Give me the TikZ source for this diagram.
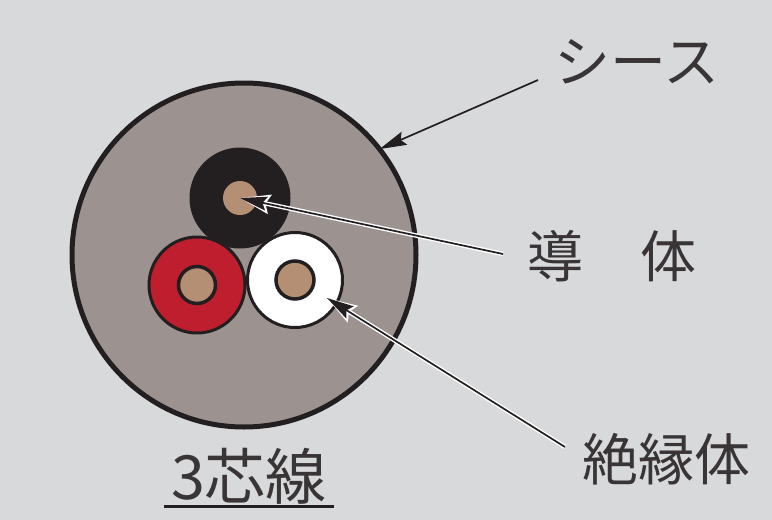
\documentclass[tikz,border=0pt]{standalone}
\usepackage{fontspec}
\usepackage{tikz}
\usetikzlibrary{arrows.meta}
\setmainfont{Noto Sans CJK JP}
\definecolor{panelgray}{HTML}{D8D9DB}
\definecolor{sheathgray}{HTML}{9C9391}
\definecolor{corebrown}{HTML}{B58F73}
\definecolor{wirered}{HTML}{BE1E2D}
\definecolor{inkblack}{HTML}{231F20}
\tikzset{
  WireStyle/.style = {circle, draw=inkblack, inner sep=0pt, outer sep=0pt},
  LabelStyle/.style = {inner sep=0pt, text=inkblack!90, font=\fontsize{56}{56}\selectfont},
  LeadStyle/.style = {draw=inkblack, line width=1.7pt, -{Stealth[length=27pt,width=14pt,inset=4pt]}},
  HaloStyle/.style = {draw=white, line width=4.5pt, -{Stealth[length=30pt,width=19pt,inset=4pt]}}
}
\begin{document}
\begin{tikzpicture}[x=1pt,y=-1pt]
  \fill[panelgray] (0,0) rectangle (772,520);
  \useasboundingbox (0,0) rectangle (772,520);
  % cable
  \node[WireStyle, fill=sheathgray, line width=5pt, minimum size=344pt] (Sheath) at (244,255) {};
  \node[WireStyle, fill=inkblack, line width=1pt, minimum size=100pt] (BlackWire) at (240,198) {};
  \node[WireStyle, fill=wirered, line width=3pt, minimum size=96pt] (RedWire) at (197,285) {};
  \node[WireStyle, fill=white, line width=3pt, minimum size=95pt] (WhiteWire) at (295,280) {};
  \node[WireStyle, fill=corebrown, draw=none, minimum size=34pt] (BlackCore) at (240,198) {};
  \node[WireStyle, fill=corebrown, line width=3.5pt, minimum size=37pt] (RedCore) at (197,285) {};
  \node[WireStyle, fill=corebrown, line width=3.5pt, minimum size=38pt] (WhiteCore) at (295,280) {};
  % labels
  \node[LabelStyle] (SheathLabel) at (637,62) {シース};
  \node[LabelStyle] (ConductorLabel) at (612,256) {導\hspace{57pt}体};
  \node[LabelStyle] (InsulatorLabel) at (666,459) {絶縁体};
  \node[LabelStyle, font=\fontsize{61}{61}\selectfont, inner xsep=7pt, inner ysep=2pt] (CoreLabel) at (249,476) {3芯線};
  \coordinate (SheathTail) at (538,80);
  \coordinate (ConductorTail) at (503,254);
  \coordinate (InsulatorTail) at (565,447);
  \coordinate (InsulatorHead) at (327,298);
  % leaders
  \draw[LeadStyle] (SheathTail) -- (Sheath.38);
  \draw[HaloStyle] (ConductorTail) -- (BlackCore.center);
  \draw[LeadStyle] (ConductorTail) -- (BlackCore.center);
  \draw[HaloStyle] (InsulatorTail) -- (InsulatorHead);
  \draw[LeadStyle] (InsulatorTail) -- (InsulatorHead);
  \draw[inkblack, line width=2.5pt] (CoreLabel.south west) -- (CoreLabel.south east);
\end{tikzpicture}
\end{document}
